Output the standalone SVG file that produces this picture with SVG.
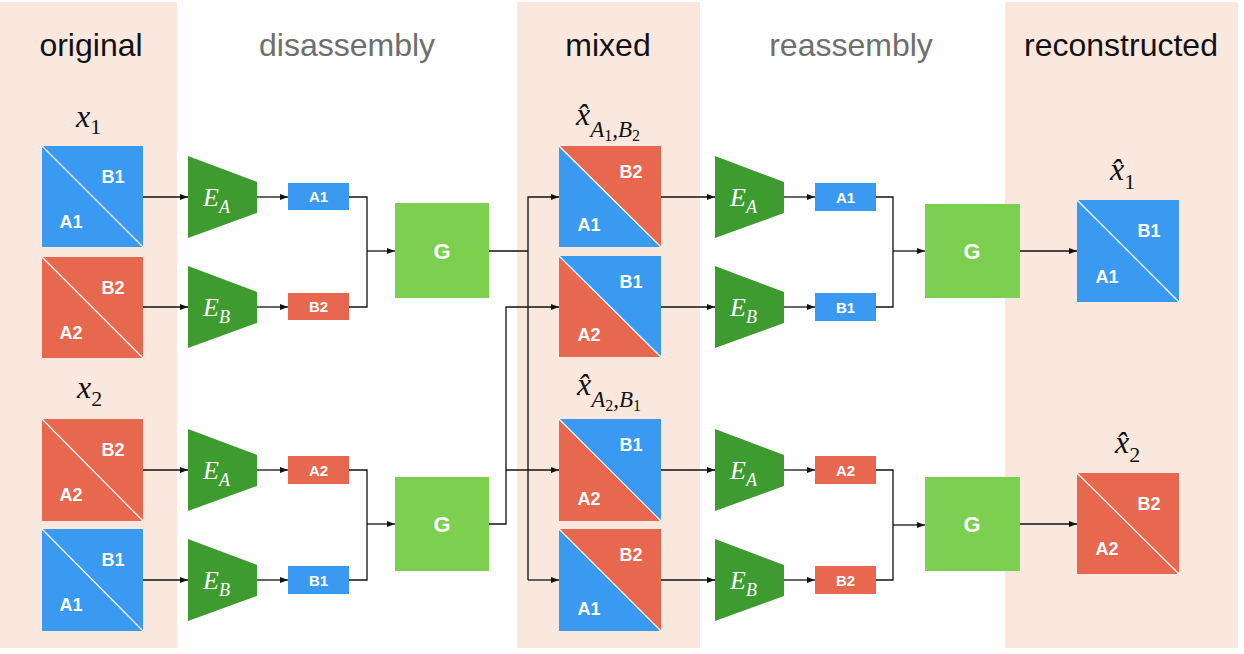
<svg xmlns="http://www.w3.org/2000/svg" width="1244" height="654" viewBox="0 0 1244 654">
  <style>
    .band { fill: #fae8de; }
    .head { font-family: "Liberation Sans", Arial, sans-serif; font-size: 32px; text-anchor: middle; }
    .dark { fill: #111111; }
    .grey { fill: #6e6e6e; }
    .blue { fill: #3a99f0; }
    .red { fill: #e8674f; }
    .diag { stroke: #ffffff; stroke-width: 1.2; }
    .lbl { font-family: "Liberation Sans", Arial, sans-serif; font-weight: bold; font-size: 18px; fill: #ffffff; text-anchor: middle; }
    .zl { font-family: "Liberation Sans", Arial, sans-serif; font-weight: bold; font-size: 15px; fill: #ffffff; text-anchor: middle; }
    .enc { fill: #3e9b2f; }
    .gen { fill: #7dd04f; }
    .gl { font-family: "Liberation Sans", Arial, sans-serif; font-weight: bold; font-size: 22px; fill: #ffffff; text-anchor: middle; }
    .et { font-family: "Liberation Serif", "Times New Roman", serif; font-style: italic; font-size: 26px; fill: #ffffff; }
    .es { font-size: 18px; }
    .math { font-family: "Liberation Serif", "Times New Roman", serif; fill: #111111; }
    .mx { font-style: italic; font-size: 32px; }
    .ms { font-size: 22px; }
    .mi { font-style: italic; font-size: 23px; }
    .mss { font-size: 16px; }
    .wire { fill: none; stroke: #111111; stroke-width: 1.3; }
  </style>
  <defs>
    <marker id="arr" markerUnits="userSpaceOnUse" markerWidth="8" markerHeight="6" refX="8" refY="3" orient="auto">
      <path d="M0,0 L8,3 L0,6 z" fill="#111111"/>
    </marker>
  </defs>

  <rect width="1244" height="654" fill="#ffffff"/>

  <!-- column bands -->
  <g id="bands">
    <rect class="band" x="0" y="2" width="177" height="646"/>
    <rect class="band" x="517" y="2" width="183" height="646"/>
    <rect class="band" x="1005" y="2" width="233" height="646"/>
  </g>

  <!-- column headings -->
  <g id="headings">
    <text class="head dark" x="91" y="56">original</text>
    <text class="head grey" x="347" y="56">disassembly</text>
    <text class="head dark" x="608" y="56">mixed</text>
    <text class="head grey" x="851" y="56">reassembly</text>
    <text class="head dark" x="1121" y="56">reconstructed</text>
  </g>

  <!-- original images -->
  <g id="x1-label">
    <text class="math" x="76" y="127"><tspan class="mx">x</tspan><tspan class="ms" y="134">1</tspan></text>
  </g>
  <g id="orig1">
    <rect class="blue" x="42" y="146" width="101" height="101"/>
    <line class="diag" x1="42" y1="146" x2="143" y2="247"/>
    <text class="lbl" x="113" y="183">B1</text>
    <text class="lbl" x="71" y="228">A1</text>
  </g>
  <g id="orig2">
    <rect class="red" x="42" y="257" width="101" height="101"/>
    <line class="diag" x1="42" y1="257" x2="143" y2="358"/>
    <text class="lbl" x="113" y="294">B2</text>
    <text class="lbl" x="71" y="339">A2</text>
  </g>
  <g id="x2-label">
    <text class="math" x="77" y="398"><tspan class="mx">x</tspan><tspan class="ms" y="406">2</tspan></text>
  </g>
  <g id="orig3">
    <rect class="red" x="42" y="419" width="101" height="102"/>
    <line class="diag" x1="42" y1="419" x2="143" y2="521"/>
    <text class="lbl" x="113" y="456">B2</text>
    <text class="lbl" x="71" y="501">A2</text>
  </g>
  <g id="orig4">
    <rect class="blue" x="42" y="529" width="101" height="102"/>
    <line class="diag" x1="42" y1="529" x2="143" y2="631"/>
    <text class="lbl" x="113" y="566">B1</text>
    <text class="lbl" x="71" y="611">A1</text>
  </g>

  <!-- disassembly encoders -->
  <g id="enc1">
    <polygon class="enc" points="188,156 257,182 257,213 188,238"/>
    <text class="et" x="203" y="206">E<tspan class="es" y="213">A</tspan></text>
  </g>
  <g id="enc2">
    <polygon class="enc" points="188,266 257,292 257,323 188,348"/>
    <text class="et" x="203" y="316">E<tspan class="es" y="323">B</tspan></text>
  </g>
  <g id="enc3">
    <polygon class="enc" points="188,429 257,455 257,486 188,511"/>
    <text class="et" x="203" y="479">E<tspan class="es" y="486">A</tspan></text>
  </g>
  <g id="enc4">
    <polygon class="enc" points="188,539 257,565 257,596 188,621"/>
    <text class="et" x="203" y="589">E<tspan class="es" y="596">B</tspan></text>
  </g>

  <!-- disassembly codes -->
  <g id="code-a1">
    <rect class="blue" x="288" y="183" width="61" height="27"/>
    <text class="zl" x="318.5" y="202">A1</text>
  </g>
  <g id="code-b2">
    <rect class="red" x="288" y="293" width="61" height="27"/>
    <text class="zl" x="318.5" y="312">B2</text>
  </g>
  <g id="code-a2">
    <rect class="red" x="288" y="456" width="61" height="28"/>
    <text class="zl" x="318.5" y="475.5">A2</text>
  </g>
  <g id="code-b1">
    <rect class="blue" x="288" y="566" width="61" height="28"/>
    <text class="zl" x="318.5" y="585.5">B1</text>
  </g>

  <!-- disassembly generators -->
  <g id="gen1">
    <rect class="gen" x="395" y="203" width="94" height="95"/>
    <text class="gl" x="442" y="259">G</text>
  </g>
  <g id="gen2">
    <rect class="gen" x="395" y="477" width="94" height="94"/>
    <text class="gl" x="442" y="532">G</text>
  </g>

  <!-- mixed images; x-hat uses a combining circumflex -->
  <g id="mix1-label">
    <text class="math" x="576" y="125"><tspan class="mx">x&#x302;</tspan><tspan class="mi" y="137">A</tspan><tspan class="mss" y="141">1</tspan><tspan class="mi" y="137">,B</tspan><tspan class="mss" y="141">2</tspan></text>
  </g>
  <g id="mix1">
    <polygon class="blue" points="559,146 661,247 559,247"/>
    <polygon class="red" points="559,146 661,146 661,247"/>
    <line class="diag" x1="559" y1="146" x2="661" y2="247"/>
    <text class="lbl" x="631" y="178">B2</text>
    <text class="lbl" x="589" y="231">A1</text>
  </g>
  <g id="mix2">
    <polygon class="red" points="559,256 661,357 559,357"/>
    <polygon class="blue" points="559,256 661,256 661,357"/>
    <line class="diag" x1="559" y1="256" x2="661" y2="357"/>
    <text class="lbl" x="631" y="288">B1</text>
    <text class="lbl" x="589" y="341">A2</text>
  </g>
  <g id="mix3-label">
    <text class="math" x="577" y="395"><tspan class="mx">x&#x302;</tspan><tspan class="mi" y="407">A</tspan><tspan class="mss" y="411">2</tspan><tspan class="mi" y="407">,B</tspan><tspan class="mss" y="411">1</tspan></text>
  </g>
  <g id="mix3">
    <polygon class="red" points="559,419 661,521 559,521"/>
    <polygon class="blue" points="559,419 661,419 661,521"/>
    <line class="diag" x1="559" y1="419" x2="661" y2="521"/>
    <text class="lbl" x="631" y="451">B1</text>
    <text class="lbl" x="589" y="505">A2</text>
  </g>
  <g id="mix4">
    <polygon class="blue" points="559,529 661,631 559,631"/>
    <polygon class="red" points="559,529 661,529 661,631"/>
    <line class="diag" x1="559" y1="529" x2="661" y2="631"/>
    <text class="lbl" x="631" y="561">B2</text>
    <text class="lbl" x="589" y="615">A1</text>
  </g>

  <!-- reassembly encoders -->
  <g id="enc5">
    <polygon class="enc" points="715,156 784,182 784,213 715,238"/>
    <text class="et" x="730" y="206">E<tspan class="es" y="213">A</tspan></text>
  </g>
  <g id="enc6">
    <polygon class="enc" points="715,266 784,292 784,323 715,348"/>
    <text class="et" x="730" y="316">E<tspan class="es" y="323">B</tspan></text>
  </g>
  <g id="enc7">
    <polygon class="enc" points="715,429 784,455 784,486 715,511"/>
    <text class="et" x="730" y="479">E<tspan class="es" y="486">A</tspan></text>
  </g>
  <g id="enc8">
    <polygon class="enc" points="715,539 784,565 784,596 715,621"/>
    <text class="et" x="730" y="589">E<tspan class="es" y="596">B</tspan></text>
  </g>

  <!-- reassembly codes -->
  <g id="code-a1-r">
    <rect class="blue" x="815" y="183" width="61" height="28"/>
    <text class="zl" x="845.5" y="202.5">A1</text>
  </g>
  <g id="code-b1-r">
    <rect class="blue" x="815" y="293" width="61" height="28"/>
    <text class="zl" x="845.5" y="312.5">B1</text>
  </g>
  <g id="code-a2-r">
    <rect class="red" x="815" y="456" width="61" height="28"/>
    <text class="zl" x="845.5" y="475.5">A2</text>
  </g>
  <g id="code-b2-r">
    <rect class="red" x="815" y="566" width="61" height="28"/>
    <text class="zl" x="845.5" y="585.5">B2</text>
  </g>

  <!-- reassembly generators -->
  <g id="gen3">
    <rect class="gen" x="925" y="204" width="95" height="94"/>
    <text class="gl" x="972" y="259">G</text>
  </g>
  <g id="gen4">
    <rect class="gen" x="925" y="477" width="95" height="94"/>
    <text class="gl" x="972" y="532">G</text>
  </g>

  <!-- reconstructed images -->
  <g id="rec1-label">
    <text class="math" x="1110" y="180"><tspan class="mx">x&#x302;</tspan><tspan class="ms" y="189">1</tspan></text>
  </g>
  <g id="rec1">
    <rect class="blue" x="1077" y="200" width="102" height="102"/>
    <line class="diag" x1="1077" y1="200" x2="1179" y2="302"/>
    <text class="lbl" x="1149" y="237">B1</text>
    <text class="lbl" x="1107" y="283">A1</text>
  </g>
  <g id="rec2-label">
    <text class="math" x="1115" y="453"><tspan class="mx">x&#x302;</tspan><tspan class="ms" y="462">2</tspan></text>
  </g>
  <g id="rec2">
    <rect class="red" x="1077" y="473" width="102" height="101"/>
    <line class="diag" x1="1077" y1="473" x2="1179" y2="574"/>
    <text class="lbl" x="1149" y="510">B2</text>
    <text class="lbl" x="1107" y="555">A2</text>
  </g>

  <!-- connectors -->
  <g id="connectors" class="wire">
    <!-- originals into encoders -->
    <path d="M143,197 H188" marker-end="url(#arr)"/>
    <path d="M143,307 H188" marker-end="url(#arr)"/>
    <path d="M143,470 H188" marker-end="url(#arr)"/>
    <path d="M143,580 H188" marker-end="url(#arr)"/>
    <!-- encoders into codes -->
    <path d="M257,197 H288" marker-end="url(#arr)"/>
    <path d="M257,307 H288" marker-end="url(#arr)"/>
    <path d="M257,470 H288" marker-end="url(#arr)"/>
    <path d="M257,580 H288" marker-end="url(#arr)"/>
    <!-- codes into generators -->
    <path d="M349,197 H367 V307 H349"/>
    <path d="M367,251 H395" marker-end="url(#arr)"/>
    <path d="M349,470 H367 V580 H349"/>
    <path d="M367,524 H395" marker-end="url(#arr)"/>
    <!-- generator 1 fan-out -->
    <path d="M489,251 H528"/>
    <path d="M528,580 V197 H559" marker-end="url(#arr)"/>
    <path d="M528,580 H559" marker-end="url(#arr)"/>
    <!-- generator 2 fan-out -->
    <path d="M489,524 H506 V307 H559" marker-end="url(#arr)"/>
    <path d="M506,470 H559" marker-end="url(#arr)"/>
    <!-- mixed into encoders -->
    <path d="M661,197 H715" marker-end="url(#arr)"/>
    <path d="M661,307 H715" marker-end="url(#arr)"/>
    <path d="M661,470 H715" marker-end="url(#arr)"/>
    <path d="M661,580 H715" marker-end="url(#arr)"/>
    <!-- encoders into codes -->
    <path d="M784,197 H815" marker-end="url(#arr)"/>
    <path d="M784,307 H815" marker-end="url(#arr)"/>
    <path d="M784,470 H815" marker-end="url(#arr)"/>
    <path d="M784,580 H815" marker-end="url(#arr)"/>
    <!-- codes into generators -->
    <path d="M876,197 H893 V307 H876"/>
    <path d="M893,251 H925" marker-end="url(#arr)"/>
    <path d="M876,470 H893 V580 H876"/>
    <path d="M893,525 H925" marker-end="url(#arr)"/>
    <!-- generators into reconstructions -->
    <path d="M1020,251 H1077" marker-end="url(#arr)"/>
    <path d="M1020,524 H1077" marker-end="url(#arr)"/>
  </g>
</svg>
